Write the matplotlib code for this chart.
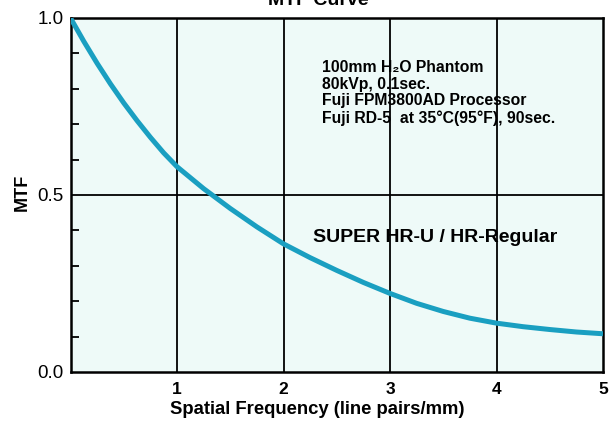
import numpy as np
import matplotlib.pyplot as plt

# MTF curve
freq = [0, 0.125, 0.25, 0.375, 0.5, 0.625, 0.75, 0.875, 1.0, 1.25, 1.5, 1.75, 2.0,
        2.25, 2.5, 2.75, 3.0, 3.25, 3.5, 3.75, 4.0, 4.25, 4.5, 4.75, 5.0]
mtf = [1.0, 0.934, 0.872, 0.814, 0.760, 0.710, 0.663, 0.619, 0.580, 0.518, 0.462, 0.410, 0.362,
       0.323, 0.287, 0.253, 0.222, 0.194, 0.171, 0.152, 0.138, 0.128, 0.120, 0.113, 0.108]

x_ticks = [1, 2, 3, 4, 5]
y_ticks = [0.0, 0.5, 1.0]
notes = ["100mm H\u2082O Phantom", "80kVp, 0.1sec.", "Fuji FPM3800AD Processor",
         "Fuji RD-5  at 35\u00b0C(95\u00b0F), 90sec."]

plt.rcParams['font.family'] = ["Liberation Sans", "DejaVu Sans"]

W, H = 610, 421
fig = plt.figure(figsize=(W / 100, H / 100), dpi=100)
ax = fig.add_axes([70.5 / W, 1 - 372 / H, (603 - 70.5) / W, (372 - 18) / H])
ax.set_facecolor("#eefaf8")

ax.plot(freq, mtf, color="#1a9fc1", lw=3.6, solid_capstyle="butt",
        solid_joinstyle="round", zorder=3)

ax.set_xlim(0, 5)
ax.set_ylim(0, 1)
for xv in x_ticks[:-1]:
    ax.axvline(xv, color="black", lw=1.3, zorder=2)
ax.axhline(0.5, color="black", lw=1.3, zorder=2)

for s in ax.spines.values():
    s.set_linewidth(1.8)

ax.set_xticks(x_ticks)
ax.set_xticklabels([str(v) for v in x_ticks], fontweight="bold", fontsize=12.5)
ax.tick_params(axis="x", length=0, pad=7)
ax.set_yticks(y_ticks)
ax.set_yticklabels(["%.1f" % v for v in y_ticks], fontsize=13.5)
ax.set_yticks(np.arange(0.1, 1.0, 0.1), minor=True)
ax.tick_params(axis="y", which="major", length=0, pad=5)
ax.tick_params(axis="y", which="minor", direction="in", length=6, width=1.3)

fig.text(22 / W, 1 - 192 / H, "MTF", rotation=90, ha="center", va="center",
         fontsize=13, fontweight="bold")
fig.text(317 / W, 1 - 410 / H, "Spatial Frequency (line pairs/mm)", ha="center", va="center",
         fontsize=13.3, fontweight="bold")
fig.text(318 / W, 1 - 5 / H, "MTF Curve", ha="center", va="baseline",
         fontsize=14, fontweight="bold")

for i, line in enumerate(notes):
    fig.text(322 / W, 1 - (67 + i * 17) / H, line, ha="left", va="center",
             fontsize=11.3, fontweight="bold")

fig.text(313 / W, 1 - 238 / H, "SUPER HR-U / HR-Regular", ha="left", va="center",
         fontsize=14, fontweight="bold")

fig.savefig("out.png", dpi=100)
